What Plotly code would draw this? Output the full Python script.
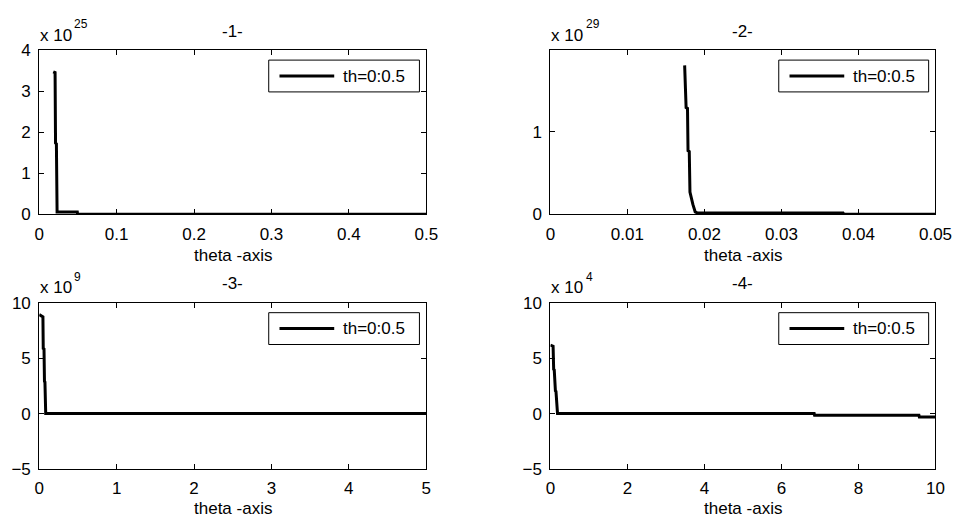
import plotly.graph_objects as go

W, H = 974, 529

# ---------------- data (values in units of 10^exponent) ----------------
p1_theta = [0.0181, 0.0205, 0.0211, 0.0222, 0.0231, 0.0236, 0.0492, 0.0496, 0.5]
p1_value = [3.48, 3.46, 1.74, 1.72, 0.06, 0.06, 0.06, 0.0, 0.0]

p2_theta = [0.01743, 0.01762, 0.01780, 0.01787, 0.01803, 0.01812, 0.0185, 0.0188, 0.0191, 0.0380, 0.0381, 0.05]
p2_value = [1.80, 1.29, 1.28, 0.77, 0.76, 0.27, 0.12, 0.03, 0.015, 0.015, 0.0, 0.0]

p3_theta = [0.0, 0.035, 0.048, 0.052, 0.062, 0.068, 0.074, 0.084, 5.0]
p3_value = [8.95, 8.85, 8.75, 5.9, 5.85, 2.9, 2.85, 0.0, 0.0]

p4_theta = [0.0, 0.07, 0.085, 0.10, 0.13, 0.145, 0.185, 6.85, 6.86, 9.57, 9.58, 10.0]
p4_value = [6.2, 6.1, 4.0, 3.95, 2.05, 2.0, 0.0, 0.0, -0.15, -0.15, -0.3, -0.3]

exponents = [25, 29, 9, 4]
titles = ["-1-", "-2-", "-3-", "-4-"]
x_label = "theta -axis"
legend_label = "th=0:0.5"

x_ranges = [[0, 0.5], [0, 0.05], [0, 5], [0, 10]]
y_ranges = [[0, 4], [0, 1.98], [-5, 10], [-5, 10]]
x_ticks = [[0, 0.1, 0.2, 0.3, 0.4, 0.5],
           [0, 0.01, 0.02, 0.03, 0.04, 0.05],
           [0, 1, 2, 3, 4, 5],
           [0, 2, 4, 6, 8, 10]]
x_ticktext = [["0", "0.1", "0.2", "0.3", "0.4", "0.5"],
              ["0", "0.01", "0.02", "0.03", "0.04", "0.05"],
              ["0", "1", "2", "3", "4", "5"],
              ["0", "2", "4", "6", "8", "10"]]
y_ticks = [[0, 1, 2, 3, 4], [0, 1], [-5, 0, 5, 10], [-5, 0, 5, 10]]

series = [(p1_theta, p1_value), (p2_theta, p2_value), (p3_theta, p3_value), (p4_theta, p4_value)]

# ---------------- layout (pixel boxes of the four axes) ----------------
boxes = [(35, 43, 431, 213), (558, 43, 952, 213), (35, 305, 431, 477), (558, 305, 952, 477)]
xlabel_gap = [43, 43, 41, 41]

FONT = "Liberation Sans, Arial, sans-serif"
FS = 17


def px(x):
    return x / W


def py(y):
    return 1 - y / H


fig = go.Figure()
annotations = []
shapes = []

for i, ((xs, ys), (l, t, r, b)) in enumerate(zip(series, boxes)):
    n = i + 1
    sfx = "" if n == 1 else str(n)
    fig.add_trace(go.Scatter(x=xs, y=ys, mode="lines", name=legend_label,
                             line=dict(color="black", width=3),
                             xaxis="x" + sfx, yaxis="y" + sfx, showlegend=False))
    axcommon = dict(showline=True, linecolor="black", linewidth=1, mirror="ticks",
                    ticks="inside", ticklen=5, tickwidth=1, tickcolor="black",
                    showgrid=False, zeroline=False,
                    tickfont=dict(family=FONT, size=FS, color="black"))
    fig.update_layout(**{
        "xaxis" + sfx: dict(domain=[px(l), px(r)], range=x_ranges[i], anchor="y" + sfx,
                            tickvals=x_ticks[i], ticktext=x_ticktext[i],
                            ticklabelstandoff=4, **axcommon),
        "yaxis" + sfx: dict(domain=[py(b), py(t)], range=y_ranges[i], anchor="x" + sfx,
                            tickvals=y_ticks[i], ticklabelstandoff=4, **axcommon),
    })
    # title
    annotations.append(dict(text=titles[i], x=px((l + r) / 2), y=py(t - 20), xref="paper", yref="paper",
                            showarrow=False, xanchor="center", yanchor="middle",
                            font=dict(family=FONT, size=FS, color="black")))
    # exponent label
    annotations.append(dict(text="x 10", x=px(l - 1), y=py(t - 16), xref="paper", yref="paper",
                            showarrow=False, xanchor="left", yanchor="middle",
                            font=dict(family=FONT, size=FS, color="black")))
    annotations.append(dict(text=str(exponents[i]), x=px(l + 34), y=py(t - 27), xref="paper", yref="paper",
                            showarrow=False, xanchor="left", yanchor="middle",
                            font=dict(family=FONT, size=12, color="black")))
    # x label
    annotations.append(dict(text=x_label, x=px((l + r) / 2), y=py(b + xlabel_gap[i]), xref="paper", yref="paper",
                            showarrow=False, xanchor="center", yanchor="middle",
                            font=dict(family=FONT, size=FS, color="black")))
    # legend box (drawn manually, MATLAB style)
    wpx = r - l
    bx0, bx1 = l + 0.593 * wpx, r - 7
    by0, by1 = t + 10, t + 43
    ly = (by0 + by1) / 2
    shapes.append(dict(type="rect", xref="paper", yref="paper",
                       x0=px(bx0), x1=px(bx1), y0=py(by1), y1=py(by0),
                       line=dict(color="black", width=1), fillcolor="white", layer="above"))
    shapes.append(dict(type="line", xref="paper", yref="paper",
                       x0=px(bx0 + 11), x1=px(bx0 + 67), y0=py(ly), y1=py(ly),
                       line=dict(color="black", width=3), layer="above"))
    annotations.append(dict(text=legend_label, x=px(bx0 + 74), y=py(ly), xref="paper", yref="paper",
                            showarrow=False, xanchor="left", yanchor="middle",
                            font=dict(family=FONT, size=FS, color="black")))

fig.update_layout(width=W, height=H, margin=dict(l=0, r=0, t=0, b=0),
                  paper_bgcolor="white", plot_bgcolor="white",
                  annotations=annotations, shapes=shapes, showlegend=False)

fig.write_html("out.html")
